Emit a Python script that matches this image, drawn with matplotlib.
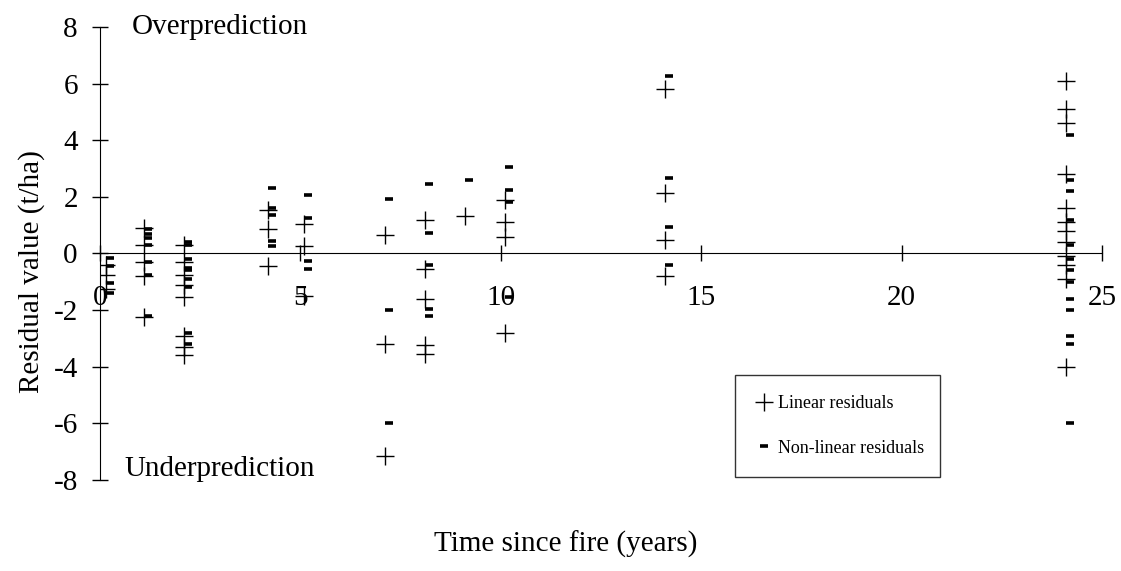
import matplotlib
matplotlib.use("Agg")
import matplotlib.pyplot as plt

plt.rcParams['font.family'] = ['Liberation Serif', 'DejaVu Serif']
plt.rcParams['axes.unicode_minus'] = False

# years since fire for each sampled site group
ages = [0.15, 1.1, 2.1, 4.2, 5.1, 7.1, 8.1, 9.1, 10.1, 14.1, 24.1]

# residuals (t/ha) of the linear model at each age
linear = [
    [-0.4, -0.75, -1.25],
    [0.9, 0.3, -0.3, -0.8, -2.25],
    [0.3, -0.3, -0.75, -1.1, -1.55, -2.9, -3.3, -3.6],
    [1.55, 0.85, -0.45],
    [1.05, 0.28, -1.5],
    [0.67, -3.2, -7.17],
    [1.17, -0.56, -1.62, -3.24, -3.56],
    [1.34],
    [1.9, 1.1, 0.6, -2.8],
    [5.82, 2.15, 0.49, -0.81],
    [6.1, 5.1, 4.6, 2.8, 1.6, 1.1, 0.8, 0.4, -0.1, -0.4, -0.9, -4.0],
]

# residuals (t/ha) of the non-linear model at each age
nonlinear = [
    [-0.15, -0.45, -1.05, -1.4],
    [0.85, 0.7, 0.55, 0.3, -0.3, -0.75, -2.2],
    [0.4, 0.3, -0.2, -0.5, -0.6, -0.9, -1.2, -2.8, -3.2],
    [2.3, 1.6, 1.35, 0.45, 0.25],
    [2.08, 1.25, -0.28, -0.56],
    [1.94, -1.98, -5.97],
    [2.47, 0.74, -0.39, -1.97, -2.2],
    [2.6],
    [3.07, 2.26, 1.83, -1.55],
    [6.28, 2.65, 0.92, -0.42],
    [4.2, 2.6, 2.2, 1.2, 0.3, -0.2, -0.6, -1.0, -1.6, -2.0, -2.9, -3.2, -6.0],
]

lin_x, lin_y, nl_x, nl_y = [], [], [], []
for a, lv, nv in zip(ages, linear, nonlinear):
    lin_x += [a] * len(lv)
    lin_y += lv
    nl_x += [a + 0.1] * len(nv)
    nl_y += nv

fig = plt.figure(figsize=(11.21, 5.71), dpi=100)
ax = fig.add_axes([0.0892, 0.1594, 0.8939, 0.7933])

ax.plot(lin_x, lin_y, '+', color='black', markersize=13, mew=1.0,
        linestyle='none', label='Linear residuals')
ax.plot(nl_x, nl_y, '_', color='black', markersize=6, mew=2.6,
        linestyle='none', label='Non-linear residuals')

ax.set_xlim(0, 25)
ax.set_ylim(-8, 8)
ax.spines['left'].set_position(('data', 0))
ax.spines['bottom'].set_position(('data', 0))
ax.spines['top'].set_visible(False)
ax.spines['right'].set_visible(False)
ax.set_xticks([0, 5, 10, 15, 20, 25])
ax.set_yticks(range(-8, 9, 2))
ax.tick_params(axis='y', direction='inout', length=12, width=1, labelsize=21, pad=10)
ax.tick_params(axis='x', direction='inout', length=12, width=1, labelsize=21, pad=17)

ax.text(0.8, 8, 'Overprediction', fontsize=21, va='center', ha='left')
ax.text(0.62, -7.6, 'Underprediction', fontsize=21, va='center', ha='left')

fig.text(0.028, 0.524, 'Residual value (t/ha)', rotation=90, fontsize=21,
         ha='center', va='center')
fig.text(0.505, 0.046, 'Time since fire (years)', fontsize=21,
         ha='center', va='center')

leg = ax.legend(loc='lower left', bbox_to_anchor=(0.634, 0.006, 0.204, 0.23),
                mode='expand', fontsize=13, frameon=True, fancybox=False,
                edgecolor='black', labelspacing=1.5, borderpad=1.15,
                handlelength=0.9, handletextpad=0.3, borderaxespad=0)
leg.get_frame().set_linewidth(1.0)

fig.savefig('out.png', dpi=100)
